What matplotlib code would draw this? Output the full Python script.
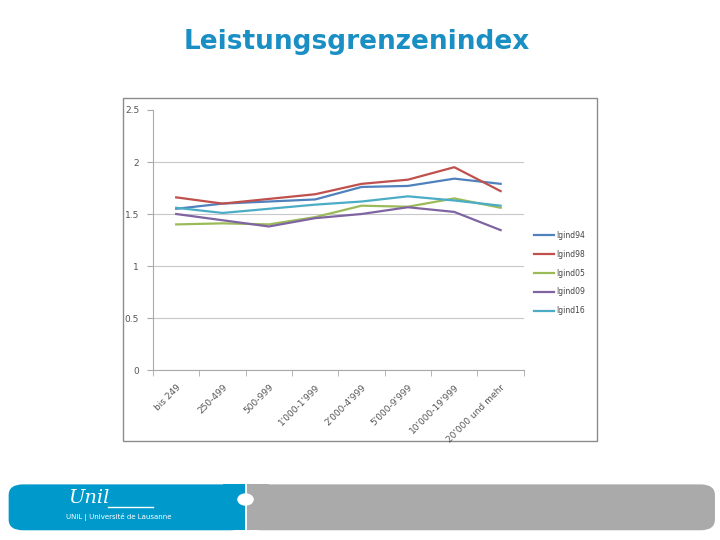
import matplotlib
matplotlib.use("Agg")
import matplotlib.pyplot as plt
from matplotlib.patches import FancyBboxPatch, Rectangle, Circle

categories = ["bis 249", "250-499", "500-999", "1'000-1'999", "2'000-4'999",
              "5'000-9'999", "10'000-19'999", "20'000 und mehr"]
series_names = ["lgind94", "lgind98", "lgind05", "lgind09", "lgind16"]
lgind94 = [1.55, 1.60, 1.62, 1.64, 1.76, 1.77, 1.84, 1.79]
lgind98 = [1.66, 1.60, 1.645, 1.69, 1.79, 1.83, 1.95, 1.72]
lgind05 = [1.40, 1.41, 1.40, 1.47, 1.58, 1.57, 1.65, 1.56]
lgind09 = [1.50, 1.44, 1.38, 1.46, 1.50, 1.565, 1.52, 1.345]
lgind16 = [1.56, 1.51, 1.55, 1.59, 1.62, 1.67, 1.63, 1.58]
series = [lgind94, lgind98, lgind05, lgind09, lgind16]
colors = ["#4F81BD", "#C0504D", "#9BBB59", "#8064A2", "#4BACC6"]
title = "Leistungsgrenzenindex"

fig = plt.figure(figsize=(7.2, 5.4), dpi=100)
fig.patch.set_facecolor("white")

fig.text(0.495, 0.922, title, ha="center", va="center", fontsize=19,
         fontweight="bold", color="#1a8fc4")

# chart frame (behind the axes)
fig.patches.append(Rectangle((0.1708, 0.1833), 0.658, 0.635, transform=fig.transFigure,
                             facecolor="none", edgecolor="#8c8c8c", linewidth=1.0,
                             zorder=-1))

ax = fig.add_axes([0.2125, 0.3148, 0.515, 0.4815])
ax.set_zorder(2)
ax.patch.set_alpha(0)
x = range(len(categories))
for name, vals, c in zip(series_names, series, colors):
    ax.plot(x, vals, color=c, linewidth=1.6, label=name)

ax.set_xlim(-0.5, len(categories) - 0.5)
ax.set_ylim(0, 2.5)
ax.set_yticks([0, 0.5, 1, 1.5, 2, 2.5])
ax.set_yticklabels(["0", "0.5", "1", "1.5", "2", "2.5"])
ax.set_xticks(list(x))
ax.set_xticklabels(categories, rotation=45, ha="right", rotation_mode="anchor")
ax.set_xticks([i - 0.5 for i in range(len(categories) + 1)], minor=True)
ax.tick_params(axis="x", which="major", length=0, labelsize=6.5, colors="#555555", pad=9)
ax.tick_params(axis="x", which="minor", length=4, color="#aaaaaa")
ax.tick_params(axis="y", length=4, color="#aaaaaa", labelsize=6.5, labelcolor="#555555", pad=6)
ax.grid(axis="y", color="#c8c8c8", linewidth=0.8)
ax.set_axisbelow(True)
for s in ["top", "right"]:
    ax.spines[s].set_visible(False)
for s in ["left", "bottom"]:
    ax.spines[s].set_color("#aaaaaa")
# no gridline at the top value
ax.yaxis.get_major_ticks()[-1].gridline.set_visible(False)

ax.legend(loc="center left", bbox_to_anchor=(1.01, 0.373), frameon=False, fontsize=5.5,
          handlelength=2.6, handletextpad=0.2, labelspacing=1.3, labelcolor="#444444")

# footer bar
fig.patches.append(FancyBboxPatch((0.012, 0.018), 0.328, 0.085, transform=fig.transFigure,
                                  boxstyle="round,pad=0,rounding_size=0.02",
                                  facecolor="#0099cc", edgecolor="none"))
fig.patches.append(FancyBboxPatch((0.343, 0.018), 0.650, 0.085, transform=fig.transFigure,
                                  boxstyle="round,pad=0,rounding_size=0.02",
                                  facecolor="#aaaaaa", edgecolor="none"))
fig.patches.append(Rectangle((0.31, 0.018), 0.030, 0.085, transform=fig.transFigure,
                             facecolor="#0099cc", edgecolor="none"))
fig.patches.append(Rectangle((0.343, 0.018), 0.03, 0.085, transform=fig.transFigure,
                             facecolor="#aaaaaa", edgecolor="none"))
fig.patches.append(Circle((0.341, 0.075), 0.0115, transform=fig.transFigure,
                          facecolor="white", edgecolor="none"))
fig.text(0.095, 0.077, "Unil", fontsize=14, color="white", style="italic",
         family="DejaVu Serif", ha="left", va="center")
fig.lines.append(plt.Line2D([0.150, 0.212], [0.062, 0.062], transform=fig.transFigure,
                            color="white", linewidth=1.0))
fig.text(0.092, 0.043, "UNIL | Université de Lausanne", fontsize=5, color="white",
         ha="left", va="center")

fig.savefig("out.png", dpi=100)
